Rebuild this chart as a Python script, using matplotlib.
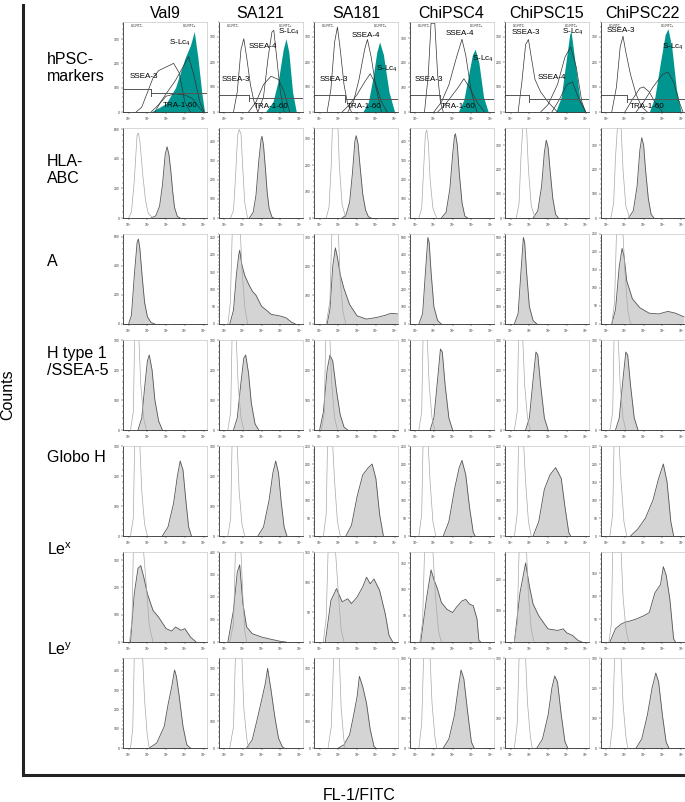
import matplotlib.pyplot as plt
import numpy as np
from matplotlib.ticker import MultipleLocator, LogLocator, NullFormatter

plt.rcParams['font.family'] = 'Liberation Sans'
plt.rcParams['mathtext.fontset'] = 'custom'
plt.rcParams['mathtext.rm'] = 'Liberation Sans'

cell_lines = ["Val9", "SA121", "SA181", "ChiPSC4", "ChiPSC15", "ChiPSC22"]
row_labels = ["hPSC-\nmarkers", "HLA-\nABC", "A", "H type 1\n/SSEA-5", "Globo H",
              r"Le$^\mathregular{x}$", r"Le$^\mathregular{y}$"]

# ---- row 1: hPSC markers, (log10 FITC, counts) ----
marker_ymax = [370, 360, 360, 365, 360, 360]
ssea3 = [
    [(0.4, 0), (0.7, 20), (1.0, 80), (1.3, 140), (1.6, 170), (2.0, 185), (2.4, 200), (2.7, 160), (3.0, 40), (3.3, 0)],
    [(0.5, 0), (0.7, 80), (0.9, 250), (1.05, 293), (1.2, 220), (1.4, 110), (1.6, 40), (1.8, 0)],
    [(0.4, 0), (0.6, 90), (0.8, 280), (0.95, 340), (1.1, 250), (1.3, 110), (1.5, 30), (1.7, 0)],
    [(0.5, 0), (0.7, 150), (0.85, 360), (1.05, 360), (1.2, 150), (1.35, 40), (1.5, 0)],
    [(0.4, 0), (0.6, 120), (0.8, 270), (0.95, 290), (1.1, 220), (1.3, 130), (1.6, 80), (2.0, 40), (2.5, 0)],
    [(0.3, 0), (0.55, 100), (0.75, 260), (0.9, 303), (1.05, 240), (1.3, 150), (1.6, 70), (1.9, 20), (2.2, 0)],
]
ssea4 = [
    [(1.4, 0), (1.7, 40), (2.0, 75), (2.5, 130), (2.9, 185), (3.2, 228), (3.5, 145), (3.8, 40), (4.0, 5)],
    [(1.8, 0), (2.1, 60), (2.35, 220), (2.55, 320), (2.65, 327), (2.8, 220), (3.0, 80), (3.2, 0)],
    [(1.5, 0), (1.8, 40), (2.1, 130), (2.4, 250), (2.55, 290), (2.75, 220), (3.0, 100), (3.3, 0)],
    [(1.0, 0), (1.4, 40), (1.8, 110), (2.2, 220), (2.5, 295), (2.7, 230), (3.0, 80), (3.3, 0)],
    [(1.6, 0), (2.0, 30), (2.5, 110), (2.9, 220), (3.2, 260), (3.5, 180), (3.8, 40), (4.0, 0)],
    [(1.0, 0), (1.4, 50), (1.8, 95), (2.0, 100), (2.3, 80), (2.6, 40), (3.0, 0)],
]
tra160 = [
    [(1.2, 0), (1.6, 30), (2.0, 65), (2.5, 75), (3.0, 70), (3.4, 55), (3.8, 15), (4.0, 0)],
    [(1.3, 0), (1.7, 40), (2.1, 110), (2.5, 143), (2.9, 130), (3.2, 80), (3.5, 0)],
    [(1.2, 0), (1.6, 30), (2.0, 70), (2.4, 120), (2.7, 153), (3.0, 110), (3.3, 40), (3.6, 0)],
    [(1.2, 0), (1.6, 30), (2.0, 70), (2.3, 100), (2.6, 135), (2.9, 100), (3.3, 40), (3.7, 0)],
    [(2.2, 0), (2.6, 50), (3.0, 110), (3.3, 120), (3.6, 60), (4.0, 0)],
    [(1.6, 0), (2.0, 40), (2.5, 100), (3.0, 150), (3.3, 160), (3.6, 120), (3.9, 40), (4.1, 0)],
]
slc4 = [
    [(1.2, 0), (2.0, 35), (2.5, 100), (3.0, 220), (3.3, 275), (3.5, 331), (3.7, 220), (3.9, 80), (4.05, 0)],
    [(2.2, 0), (2.6, 40), (2.9, 130), (3.15, 250), (3.3, 293), (3.45, 240), (3.65, 80), (3.85, 0)],
    [(2.3, 0), (2.6, 40), (2.85, 140), (3.05, 240), (3.2, 280), (3.4, 230), (3.7, 80), (4.0, 0)],
    [(2.3, 0), (2.6, 50), (2.85, 150), (3.05, 230), (3.2, 255), (3.4, 200), (3.65, 60), (3.9, 0)],
    [(2.4, 0), (2.7, 60), (2.95, 200), (3.15, 310), (3.22, 324), (3.4, 220), (3.7, 50), (4.0, 0)],
    [(2.3, 0), (2.6, 60), (2.9, 200), (3.15, 310), (3.3, 333), (3.5, 260), (3.75, 90), (4.0, 0)],
]
gate_x = [1.2, 1.35, 1.35, 1.3, 1.0, 1.1]
gate_lo = [95, 70, 70, 70, 70, 70]
gate_hi = [77, 55, 51, 51, 51, 51]
# label positions (log10 x, counts)
lab_ssea3 = [(0.8, 145), (0.65, 130), (0.75, 130), (0.75, 133), (0.8, 317), (0.8, 324)]
lab_ssea4 = [None, (2.05, 260), (2.45, 307), (2.4, 317), (2.2, 137), None]
lab_slc4 = [(2.75, 283), (3.45, 320), (3.6, 173), (3.6, 216), (3.3, 320), (3.55, 260)]
lab_tra = [(2.75, 28), (2.5, 20), (2.4, 23), (2.3, 23), None, (2.2, 23)]

# ---- row 2: HLA-ABC ----
hla_ymax = [610, 470, 340, 470, 370, 370]
hla_step = [200, 100, 100, 100, 100, 100]
hla_ctrl = [
    [(0.0, 0), (0.15, 40), (0.3, 250), (0.45, 560), (0.52, 576), (0.6, 520), (0.75, 300), (0.9, 120), (1.05, 30), (1.3, 0)],
    [(0.35, 0), (0.5, 40), (0.6, 200), (0.72, 430), (0.8, 462), (0.9, 440), (1.0, 250), (1.1, 80), (1.25, 0)],
    [(0.35, 0), (0.5, 40), (0.62, 200), (0.68, 340), (0.98, 340), (1.05, 200), (1.2, 50), (1.4, 0)],
    [(0.2, 0), (0.35, 50), (0.45, 250), (0.55, 440), (0.62, 460), (0.7, 400), (0.8, 200), (0.95, 50), (1.15, 0)],
    [(0.3, 0), (0.45, 60), (0.55, 250), (0.65, 370), (0.85, 370), (0.95, 200), (1.1, 50), (1.3, 0)],
    [(0.25, 0), (0.4, 60), (0.5, 250), (0.6, 370), (0.8, 370), (0.9, 200), (1.05, 50), (1.25, 0)],
]
hla_stain = [
    [(1.2, 0), (1.45, 15), (1.65, 80), (1.8, 220), (1.95, 430), (2.05, 483), (2.15, 430), (2.25, 320), (2.35, 180), (2.45, 70), (2.6, 10), (2.75, 0)],
    [(1.35, 0), (1.55, 30), (1.7, 120), (1.85, 300), (1.97, 410), (2.02, 427), (2.1, 380), (2.2, 260), (2.3, 130), (2.4, 50), (2.55, 5), (2.65, 0)],
    [(1.2, 0), (1.4, 10), (1.6, 60), (1.75, 170), (1.88, 290), (1.95, 311), (2.05, 280), (2.15, 200), (2.3, 90), (2.45, 30), (2.6, 5), (2.75, 0)],
    [(1.4, 0), (1.65, 30), (1.85, 150), (2.0, 330), (2.1, 430), (2.15, 440), (2.25, 380), (2.35, 240), (2.5, 80), (2.65, 10), (2.8, 0)],
    [(1.2, 0), (1.45, 30), (1.65, 130), (1.8, 270), (1.9, 320), (2.0, 290), (2.1, 200), (2.25, 80), (2.4, 15), (2.55, 0)],
    [(1.2, 0), (1.45, 30), (1.65, 130), (1.8, 280), (1.9, 330), (2.0, 300), (2.1, 200), (2.25, 80), (2.4, 15), (2.55, 0)],
]

# ---- row 3: A ----
a_ymax = [620, 260, 311, 520, 520, 250]
a_step = [200, 50, 100, 100, 100, 50]
a_ctrl = [
    None,
    [(0.2, 0), (0.33, 60), (0.43, 260), (0.87, 260), (0.95, 160), (1.1, 50), (1.25, 0)],
    [(0.35, 0), (0.55, 80), (0.65, 311), (1.0, 311), (1.1, 150), (1.25, 40), (1.4, 0)],
    None,
    None,
    [(0.3, 0), (0.45, 60), (0.55, 250), (0.9, 250), (1.0, 150), (1.15, 40), (1.3, 0)],
]
a_stain = [
    [(0.0, 0), (0.15, 60), (0.3, 330), (0.45, 560), (0.52, 586), (0.6, 520), (0.72, 330), (0.85, 150), (1.0, 50), (1.2, 10), (1.4, 0)],
    [(0.3, 0), (0.5, 40), (0.65, 140), (0.78, 200), (0.83, 213), (0.95, 170), (1.1, 140), (1.3, 116), (1.5, 95), (1.7, 83), (2.0, 51), (2.3, 38), (2.5, 28), (3.0, 23), (3.3, 18), (3.6, 5), (3.8, 0)],
    [(0.4, 0), (0.55, 50), (0.7, 200), (0.84, 263), (0.95, 230), (1.1, 170), (1.3, 122), (1.6, 67), (2.0, 28), (2.5, 17), (3.0, 22), (3.5, 30), (3.8, 37), (4.15, 35)],
    [(0.2, 0), (0.4, 60), (0.55, 300), (0.68, 500), (0.75, 470), (0.85, 300), (1.0, 100), (1.2, 20), (1.4, 0)],
    [(0.2, 0), (0.4, 60), (0.55, 300), (0.68, 500), (0.75, 470), (0.85, 300), (1.0, 100), (1.2, 20), (1.4, 0)],
    [(0.3, 0), (0.5, 40), (0.7, 160), (0.85, 210), (0.95, 190), (1.1, 120), (1.4, 70), (1.8, 45), (2.3, 30), (2.8, 28), (3.3, 35), (3.7, 30), (4.15, 20)],
]

# ---- row 4: H type 1 / SSEA-5 ----
h_ymax = [300, 300, 300, 300, 300, 300]
h_step = [100, 100, 100, 100, 100, 100]
h_ctrl = [
    [(0.1, 0), (0.25, 60), (0.32, 300), (0.55, 300), (0.65, 150), (0.8, 40), (0.95, 0)],
    [(0.2, 0), (0.35, 60), (0.42, 300), (0.65, 300), (0.75, 150), (0.9, 40), (1.05, 0)],
    [(0.1, 0), (0.25, 60), (0.32, 300), (0.55, 300), (0.65, 150), (0.8, 40), (0.95, 0)],
    [(0.2, 0), (0.35, 60), (0.42, 300), (0.65, 300), (0.75, 150), (0.9, 40), (1.05, 0)],
    [(0.2, 0), (0.35, 60), (0.42, 300), (0.65, 300), (0.75, 150), (0.9, 40), (1.05, 0)],
    [(0.2, 0), (0.35, 60), (0.42, 300), (0.65, 300), (0.75, 150), (0.9, 40), (1.05, 0)],
]
h_stain = [
    [(0.5, 0), (0.7, 40), (0.85, 140), (1.0, 230), (1.1, 250), (1.25, 200), (1.4, 100), (1.6, 30), (1.8, 0)],
    [(0.5, 0), (0.7, 40), (0.9, 160), (1.05, 240), (1.15, 250), (1.3, 190), (1.45, 90), (1.65, 20), (1.85, 0)],
    [(0.0, 0), (0.2, 60), (0.4, 200), (0.55, 250), (0.7, 230), (0.9, 130), (1.1, 50), (1.3, 10), (1.5, 0)],
    [(0.8, 0), (1.0, 40), (1.2, 170), (1.35, 270), (1.45, 260), (1.6, 150), (1.8, 40), (2.0, 0)],
    [(0.8, 0), (1.0, 40), (1.2, 170), (1.35, 260), (1.45, 250), (1.6, 150), (1.8, 40), (2.0, 0)],
    [(0.5, 0), (0.7, 40), (0.9, 170), (1.05, 260), (1.15, 250), (1.3, 150), (1.5, 40), (1.7, 0)],
]

# ---- row 5: Globo H ----
g_ymax = [300, 300, 250, 250, 250, 250]
g_step = [100, 100, 50, 50, 50, 50]
g_ctrl = [
    [(0.1, 0), (0.25, 60), (0.32, 300), (0.6, 300), (0.7, 150), (0.85, 40), (1.0, 0)],
    [(0.2, 0), (0.35, 60), (0.42, 300), (0.7, 300), (0.8, 150), (0.95, 40), (1.1, 0)],
    [(0.2, 0), (0.35, 60), (0.42, 250), (0.7, 250), (0.8, 150), (0.95, 40), (1.1, 0)],
    [(0.2, 0), (0.35, 60), (0.42, 250), (0.7, 250), (0.8, 150), (0.95, 40), (1.1, 0)],
    [(0.2, 0), (0.35, 60), (0.42, 250), (0.7, 250), (0.8, 150), (0.95, 40), (1.1, 0)],
    [(0.2, 0), (0.35, 60), (0.42, 250), (0.7, 250), (0.8, 150), (0.95, 40), (1.1, 0)],
]
g_stain = [
    [(1.8, 0), (2.1, 30), (2.4, 110), (2.6, 200), (2.75, 250), (2.9, 220), (3.05, 120), (3.2, 30), (3.35, 0)],
    [(1.8, 0), (2.1, 30), (2.4, 120), (2.6, 210), (2.75, 250), (2.9, 210), (3.05, 110), (3.2, 30), (3.35, 0)],
    [(1.4, 0), (1.7, 30), (2.0, 110), (2.3, 170), (2.6, 190), (2.8, 200), (3.0, 160), (3.2, 60), (3.4, 0)],
    [(1.5, 0), (1.8, 40), (2.1, 130), (2.35, 190), (2.5, 210), (2.7, 170), (2.9, 80), (3.1, 10), (3.2, 0)],
    [(1.2, 0), (1.5, 40), (1.8, 130), (2.1, 170), (2.4, 190), (2.7, 160), (2.9, 80), (3.1, 10), (3.2, 0)],
    [(1.3, 0), (1.7, 20), (2.1, 50), (2.5, 100), (2.8, 160), (3.05, 200), (3.25, 150), (3.45, 40), (3.6, 0)],
]

# ---- row 6: Le^x ----
lex_ymax = [330, 400, 150, 171, 288, 196]
lex_step = [100, 100, 50, 50, 100, 50]
lex_ctrl = [
    [(0.05, 0), (0.18, 80), (0.25, 330), (0.8, 330), (0.95, 200), (1.1, 60), (1.3, 0)],
    [(0.3, 0), (0.5, 80), (0.6, 400), (0.9, 400), (1.0, 200), (1.1, 50), (1.2, 0)],
    [(0.2, 0), (0.35, 40), (0.45, 150), (0.85, 150), (1.0, 80), (1.15, 20), (1.3, 0)],
    [(0.25, 0), (0.4, 40), (0.5, 171), (0.95, 171), (1.1, 80), (1.25, 20), (1.4, 0)],
    [(0.2, 0), (0.35, 60), (0.45, 288), (0.85, 288), (0.95, 150), (1.1, 40), (1.25, 0)],
    [(0.15, 0), (0.28, 40), (0.35, 196), (0.8, 196), (0.9, 100), (1.05, 30), (1.2, 0)],
]
lex_stain = [
    [(0.1, 0), (0.3, 177), (0.5, 270), (0.65, 280), (0.8, 240), (1.0, 177), (1.3, 116), (1.6, 91), (2.0, 49), (2.3, 40), (2.5, 55), (2.8, 43), (3.0, 49), (3.3, 18), (3.6, 0)],
    [(0.2, 0), (0.5, 142), (0.7, 310), (0.83, 343), (1.0, 172), (1.2, 67), (1.5, 37), (2.0, 22), (2.5, 12), (3.0, 3), (3.3, 0)],
    [(0.3, 0), (0.6, 69), (0.9, 89), (1.2, 67), (1.5, 72), (1.7, 64), (2.0, 75), (2.3, 92), (2.5, 108), (2.7, 97), (2.9, 105), (3.2, 86), (3.5, 47), (3.7, 11), (3.9, 0)],
    [(0.3, 0), (0.6, 81), (0.85, 137), (1.0, 119), (1.2, 100), (1.4, 75), (1.7, 62), (2.0, 56), (2.2, 66), (2.5, 78), (2.7, 81), (2.9, 72), (3.1, 69), (3.3, 44), (3.4, 3), (3.5, 0)],
    [(0.2, 0), (0.5, 158), (0.8, 253), (1.0, 179), (1.2, 121), (1.5, 84), (1.8, 58), (2.0, 42), (2.5, 37), (2.8, 42), (3.0, 29), (3.3, 21), (3.6, 5), (3.8, 0)],
    [(0.2, 0), (0.5, 29), (0.8, 39), (1.0, 43), (1.3, 46), (1.6, 50), (2.0, 57), (2.3, 64), (2.6, 107), (2.9, 125), (3.05, 164), (3.2, 146), (3.4, 93), (3.6, 7), (3.7, 0)],
]

# ---- row 7: Le^y ----
ley_ymax = [467, 339, 339, 300, 300, 300]
ley_step = [100, 100, 100, 100, 100, 100]
ley_ctrl = [
    [(0.1, 0), (0.22, 100), (0.3, 467), (0.75, 467), (0.85, 250), (1.0, 60), (1.1, 0)],
    [(0.3, 0), (0.5, 80), (0.6, 339), (0.95, 339), (1.05, 150), (1.2, 40), (1.3, 0)],
    [(0.45, 0), (0.62, 80), (0.75, 339), (1.05, 339), (1.15, 150), (1.28, 40), (1.35, 0)],
    [(0.2, 0), (0.35, 80), (0.45, 300), (0.8, 300), (0.9, 150), (1.05, 40), (1.15, 0)],
    [(0.2, 0), (0.35, 80), (0.45, 300), (0.8, 300), (0.9, 150), (1.05, 40), (1.15, 0)],
    [(0.2, 0), (0.35, 80), (0.45, 300), (0.8, 300), (0.9, 150), (1.05, 40), (1.15, 0)],
]
ley_stain = [
    [(1.1, 0), (1.5, 26), (1.9, 112), (2.1, 224), (2.3, 319), (2.45, 405), (2.55, 370), (2.7, 267), (2.9, 112), (3.1, 17), (3.3, 0)],
    [(1.2, 0), (1.5, 31), (1.8, 119), (2.0, 181), (2.2, 244), (2.32, 300), (2.5, 219), (2.7, 119), (2.9, 37), (3.1, 5), (3.2, 0)],
    [(1.0, 0), (1.3, 12), (1.6, 50), (1.8, 119), (2.0, 194), (2.12, 270), (2.3, 231), (2.5, 169), (2.7, 69), (2.9, 6), (3.0, 0)],
    [(1.5, 0), (1.8, 30), (2.1, 110), (2.3, 200), (2.45, 260), (2.6, 230), (2.8, 120), (3.0, 20), (3.15, 0)],
    [(1.4, 0), (1.7, 30), (2.0, 110), (2.2, 200), (2.35, 240), (2.5, 220), (2.7, 110), (2.9, 20), (3.05, 0)],
    [(1.6, 0), (1.9, 30), (2.2, 110), (2.45, 200), (2.65, 250), (2.8, 220), (3.0, 110), (3.2, 20), (3.35, 0)],
]

W, H = 685, 802
fig = plt.figure(figsize=(W / 100, H / 100), dpi=100)

def px_axes(left, top, w, h):
    return fig.add_axes([left / W, 1 - (top + h) / H, w / W, h / H])

def xy(knots):
    lx, cnt = zip(*knots)
    return 10 ** np.array(lx), np.array(cnt, dtype=float)

def style(ax, ymax, step):
    ax.set_xscale('log')
    ax.set_xlim(10 ** -0.3, 10 ** 4.18)
    ax.set_ylim(0, ymax)
    ax.yaxis.set_major_locator(MultipleLocator(step))
    ax.yaxis.set_minor_locator(MultipleLocator(step / 5))
    ax.xaxis.set_major_locator(LogLocator(base=10, numticks=10))
    ax.xaxis.set_minor_locator(LogLocator(base=10, subs=np.arange(2, 10), numticks=10))
    ax.xaxis.set_minor_formatter(NullFormatter())
    ax.tick_params(which='both', labelsize=2.4, width=0.35, pad=0.8, colors='#333333')
    ax.tick_params(which='major', length=1.6)
    ax.tick_params(which='minor', length=0.8)
    for s in ['left', 'bottom']:
        ax.spines[s].set_linewidth(0.6)
        ax.spines[s].set_color('#333333')
    for s in ['top', 'right']:
        ax.spines[s].set_linewidth(0.5)
        ax.spines[s].set_color('#c8c8c8')

def draw_row(r, ctrl, stain, ymax, step):
    for c in range(6):
        ax = px_axes(123 + 95.5 * c, 22 + 106 * r, 84, 90)
        style(ax, ymax[c], step[c])
        x, y = xy(stain[c])
        ax.fill_between(x, y, color='#d4d4d4', lw=0)
        ax.plot(x, y, color='#555555', lw=0.6)
        if ctrl[c] is not None:
            x, y = xy(ctrl[c])
            ax.plot(x, y, color='#a8a8a8', lw=0.5)

# row 1
for c in range(6):
    ax = px_axes(123 + 95.5 * c, 22, 84, 90)
    style(ax, marker_ymax[c], 100)
    x, y = xy(slc4[c])
    ax.fill_between(x, y, color='#00968f', lw=0)
    for curve in (ssea3[c], ssea4[c], tra160[c]):
        x, y = xy(curve)
        ax.plot(x, y, color='#333333', lw=0.5)
    g = 10 ** gate_x[c]
    ax.plot([10 ** -0.3, g], [gate_lo[c], gate_lo[c]], color='#555555', lw=0.7)
    ax.plot([g, g], [gate_lo[c], gate_hi[c] - 12], color='#555555', lw=0.7)
    ax.plot([g, 10 ** 4.18], [gate_hi[c], gate_hi[c]], color='#555555', lw=0.7)
    ax.text(0.1, 0.975, "G1 FITC-", transform=ax.transAxes, fontsize=2, va='top')
    ax.text(0.72, 0.975, "G1 FITC+", transform=ax.transAxes, fontsize=2, va='top')
    for pos, txt in ((lab_ssea3[c], "SSEA-3"), (lab_ssea4[c], "SSEA-4"),
                     (lab_slc4[c], r"S-Lc$_\mathregular{4}$"), (lab_tra[c], "TRA-1-60")):
        if pos is not None:
            ax.text(10 ** pos[0], pos[1], txt, fontsize=5.8, ha='center', va='center')
    ax.set_title(cell_lines[c], fontsize=11.5, pad=3)

draw_row(1, hla_ctrl, hla_stain, hla_ymax, hla_step)
draw_row(2, a_ctrl, a_stain, a_ymax, a_step)
draw_row(3, h_ctrl, h_stain, h_ymax, h_step)
draw_row(4, g_ctrl, g_stain, g_ymax, g_step)
draw_row(5, lex_ctrl, lex_stain, lex_ymax, lex_step)
draw_row(6, ley_ctrl, ley_stain, ley_ymax, ley_step)

label_y = [68, 170, 262, 362, 458, 550, 650]
for r in range(7):
    fig.text(47 / W, 1 - label_y[r] / H, row_labels[r], fontsize=11.5,
             ha='left', va='center', linespacing=1.1)

fig.add_artist(plt.Line2D([23 / W, 23 / W], [1 - 5 / H, 1 - 775 / H], color='#222222', lw=2.2))
fig.add_artist(plt.Line2D([23 / W, 685 / W], [1 - 775 / H, 1 - 775 / H], color='#222222', lw=2.2))
fig.text(8 / W, 1 - 395 / H, "Counts", rotation=90, fontsize=11.5, ha='center', va='center')
fig.text(359 / W, 1 - 796 / H, "FL-1/FITC", fontsize=11.5, ha='center', va='center')

fig.savefig('out.png', dpi=100)
